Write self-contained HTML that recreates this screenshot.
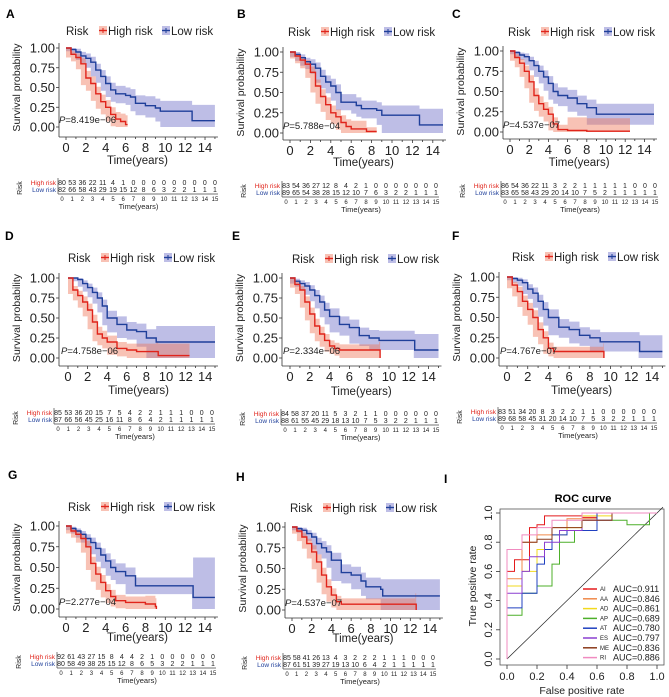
<!DOCTYPE html>
<html><head><meta charset="utf-8"><style>
html,body{margin:0;padding:0;background:#fff}
svg{display:block;font-family:"Liberation Sans",Arial,sans-serif}
</style></head><body>
<svg id="fig" width="669" height="697" viewBox="0 0 669 697" xmlns="http://www.w3.org/2000/svg"></svg>
<script>
// ---- Kaplan-Meier data (time years, survival, CI half-width) ----
const A_hiT=[0,0.5,1,1.5,2,2.5,3,3.5,4,4.5,5,5.5,6,6.2];
const A_hiS=[1,0.92,0.88,0.80,0.62,0.55,0.42,0.32,0.25,0.16,0.10,0.07,0.03,0.03];
const A_hiE=[0,0.04,0.05,0.07,0.09,0.09,0.09,0.09,0.09,0.09,0.09,0.1,0.12,0.12];
const A_loT=[0,0.5,1,1.5,2,2.5,3,3.5,4,4.5,5,6,6.5,7,8,9,9.5,12.7,15];
const A_loS=[1,0.98,0.95,0.90,0.87,0.82,0.72,0.64,0.55,0.47,0.42,0.40,0.38,0.30,0.27,0.24,0.20,0.08,0.08];
const A_loE=[0,0.02,0.04,0.05,0.06,0.07,0.08,0.08,0.09,0.09,0.1,0.1,0.1,0.1,0.12,0.12,0.13,0.2,0.2];
const A_hiN=[80,53,36,22,11,4,1,0,0,0,0,0,0,0,0,0];
const A_loN=[82,66,58,43,29,19,15,12,8,6,3,2,2,1,1,1];

const B_hiT=[0,0.5,1,1.5,2,2.5,3,3.5,4,4.5,5,5.5,6,7,7.5,8.5];
const B_hiS=[1,0.95,0.90,0.85,0.75,0.58,0.45,0.35,0.25,0.20,0.13,0.08,0.05,0.05,0.02,0.02];
const B_hiE=[0,0.03,0.04,0.05,0.07,0.08,0.09,0.09,0.09,0.09,0.09,0.09,0.1,0.1,0.05,0.05];
const B_loT=[0,0.5,1,1.5,2,2.5,3,3.5,4,4.5,5,6,6.5,7,8.5,9,12.7,15];
const B_loS=[1,0.97,0.93,0.88,0.85,0.80,0.70,0.63,0.58,0.50,0.38,0.38,0.34,0.30,0.28,0.22,0.10,0.10];
const B_loE=[0,0.03,0.04,0.05,0.06,0.07,0.08,0.08,0.09,0.1,0.1,0.1,0.1,0.1,0.1,0.12,0.2,0.2];
const B_hiN=[83,54,36,27,12,8,4,2,1,0,0,0,0,0,0,0];
const B_loN=[89,65,54,38,28,15,12,10,7,6,3,2,2,1,1,1];

const C_hiT=[0,0.5,1,1.5,2,2.5,3,3.5,4,4.5,5,6,8,12.5];
const C_hiS=[1,0.92,0.85,0.75,0.62,0.45,0.35,0.28,0.22,0.10,0.03,0.02,0.01,0.01];
const C_hiE=[0,0.04,0.05,0.07,0.08,0.09,0.09,0.09,0.09,0.08,0.06,0.16,0.16,0.16];
const C_loT=[0,0.5,1,1.5,2,2.5,3,3.5,4,4.5,5,6,7,8,9,15];
const C_loS=[1,0.98,0.95,0.93,0.88,0.82,0.75,0.68,0.60,0.50,0.45,0.42,0.35,0.30,0.22,0.22];
const C_loE=[0,0.02,0.03,0.04,0.05,0.06,0.07,0.08,0.09,0.1,0.1,0.1,0.1,0.1,0.13,0.13];
const C_hiN=[86,54,36,22,11,3,2,2,1,1,1,1,1,0,0,0];
const C_loN=[83,65,58,43,29,20,14,10,7,5,2,1,1,1,1,1];

const D_hiT=[0,0.5,1,1.5,2,2.5,3,3.5,4,5,6,7,9,9.2,12.4];
const D_hiS=[1,0.85,0.78,0.70,0.60,0.45,0.30,0.25,0.20,0.12,0.10,0.08,0.08,0.03,0.03];
const D_hiE=[0,0.05,0.06,0.07,0.08,0.09,0.09,0.09,0.08,0.08,0.08,0.1,0.12,0.15,0.15];
const D_loT=[0,0.5,1,1.5,2,2.5,3,3.5,4,5,6,7,8,9,15];
const D_loS=[1,1,0.98,0.93,0.88,0.82,0.75,0.65,0.50,0.42,0.35,0.33,0.25,0.20,0.20];
const D_loE=[0,0.01,0.02,0.04,0.05,0.06,0.07,0.08,0.09,0.1,0.1,0.1,0.11,0.2,0.2];
const D_hiN=[85,53,36,20,15,7,5,4,2,2,1,1,1,0,0,0];
const D_loN=[87,66,56,45,25,16,11,8,6,4,2,1,1,1,1,1];

const E_hiT=[0,0.5,1,1.5,2,2.5,3,3.5,4,4.5,5,9,9.1];
const E_hiS=[1,0.92,0.85,0.70,0.55,0.40,0.30,0.22,0.15,0.12,0.10,0.10,0];
const E_hiE=[0,0.04,0.05,0.07,0.08,0.09,0.09,0.08,0.07,0.07,0.07,0.1,0];
const E_loT=[0,0.5,1,1.5,2,2.5,3,3.5,4,5,6,7,8,9,12.5,12.6,15];
const E_loS=[1,0.96,0.93,0.90,0.85,0.78,0.70,0.60,0.52,0.42,0.38,0.28,0.25,0.22,0.22,0.10,0.10];
const E_loE=[0,0.03,0.04,0.05,0.06,0.07,0.08,0.09,0.1,0.1,0.1,0.1,0.1,0.12,0.12,0.2,0.2];
const E_hiN=[84,58,37,20,11,5,3,2,1,1,0,0,0,0,0,0];
const E_loN=[88,61,55,45,29,18,13,10,7,5,3,2,2,1,1,1];

const F_hiT=[0,0.5,1,1.5,2,2.5,3,3.5,4,4.5,9.3,9.35];
const F_hiS=[1,0.90,0.82,0.70,0.60,0.50,0.35,0.25,0.12,0.08,0.08,0];
const F_hiE=[0,0.04,0.06,0.07,0.08,0.09,0.09,0.08,0.07,0.06,0.1,0];
const F_loT=[0,0.5,1,1.5,2,2.5,3,3.5,4,5,6,7,8,9,12.7,12.8,15];
const F_loS=[1,0.98,0.96,0.93,0.85,0.80,0.70,0.60,0.50,0.38,0.35,0.28,0.25,0.20,0.20,0.08,0.08];
const F_loE=[0,0.02,0.03,0.04,0.06,0.07,0.08,0.09,0.1,0.1,0.1,0.1,0.1,0.12,0.12,0.2,0.2];
const F_hiN=[83,51,34,20,8,3,2,2,1,1,0,0,0,0,0,0];
const F_loN=[89,68,58,45,31,20,14,10,7,5,3,2,2,1,1,1];

const G_hiT=[0,0.5,1,1.5,2,2.5,3,3.5,4,4.5,5,6,8,9,9.1];
const G_hiS=[1,0.94,0.90,0.85,0.75,0.55,0.42,0.32,0.22,0.15,0.10,0.08,0.06,0.03,0];
const G_hiE=[0,0.03,0.04,0.05,0.07,0.08,0.09,0.09,0.08,0.08,0.07,0.07,0.1,0.1,0];
const G_loT=[0,0.5,1,1.5,2,2.5,3,3.5,4,4.5,5,6,7,12.7,12.8,15];
const G_loS=[1,0.97,0.94,0.90,0.85,0.80,0.73,0.65,0.58,0.50,0.45,0.40,0.28,0.28,0.14,0.14];
const G_loE=[0,0.02,0.03,0.04,0.05,0.06,0.07,0.08,0.09,0.1,0.1,0.1,0.1,0.1,0.48,0.48];
const G_hiN=[92,61,43,27,15,8,4,4,2,1,0,0,0,0,0,0];
const G_loN=[80,58,49,38,25,15,12,8,6,5,3,2,2,1,1,1];

const H_hiT=[0,0.5,1,1.5,2,2.5,3,3.5,4,4.5,5,12.5,12.6];
const H_hiS=[1,0.95,0.88,0.80,0.70,0.58,0.42,0.28,0.18,0.10,0.07,0.07,0];
const H_hiE=[0,0.03,0.05,0.06,0.08,0.09,0.09,0.09,0.08,0.07,0.07,0.13,0];
const H_loT=[0,0.5,1,1.5,2,2.5,3,3.5,4,5,6,7,7.5,9,9.2,15];
const H_loS=[1,0.98,0.96,0.92,0.88,0.80,0.75,0.70,0.60,0.45,0.42,0.35,0.28,0.25,0.17,0.17];
const H_loE=[0,0.02,0.03,0.04,0.05,0.07,0.08,0.08,0.09,0.1,0.1,0.1,0.11,0.12,0.2,0.22];
const H_hiN=[85,58,41,26,13,4,3,2,2,2,1,1,1,0,0,0];
const H_loN=[87,61,51,39,27,19,13,10,6,4,2,1,1,1,1,1];

const pValues=["8.419e\u221206","5.788e\u221204","4.537e\u221207","4.758e\u221206","2.334e\u221206","4.767e\u221207","2.277e\u221204","4.537e\u221207"];
const yTickVals=[0,0.25,0.5,0.75,1];
const yTickLabels=["0.00","0.25","0.50","0.75","1.00"];
const xTickVals=[0,2,4,6,8,10,12,14];

// ---- ROC data ----
const rocNames=["AI","AA","AD","AP","AT","ES","ME","RI"];
const rocAUC=["0.911","0.846","0.861","0.689","0.780","0.797","0.836","0.886"];
const rocColors=["#e41a1c","#f08a4b","#f2d91e","#4daf2a","#2040c0","#8a3fd0","#8b3a1a","#f08bc0"];
const roc_AI=[[0,0],[0,0.6],[0.05,0.6],[0.05,0.68],[0.15,0.68],[0.15,0.85],[0.2,0.9],[0.25,0.92],[0.3,0.98],[0.5,0.98],[0.6,0.97],[1,1]];
const roc_AA=[[0,0],[0,0.55],[0.1,0.55],[0.1,0.75],[0.2,0.8],[0.3,0.85],[0.4,0.9],[0.6,0.96],[1,1]];
const roc_AD=[[0,0],[0,0.45],[0.1,0.5],[0.2,0.6],[0.3,0.75],[0.4,0.85],[0.5,0.9],[0.7,0.98],[1,1]];
const roc_AP=[[0,0],[0,0.2],[0.1,0.3],[0.2,0.45],[0.3,0.5],[0.35,0.65],[0.45,0.8],[0.6,0.88],[0.8,0.95],[0.95,0.92],[1,1]];
const roc_AT=[[0,0],[0,0.3],[0.1,0.35],[0.2,0.45],[0.25,0.65],[0.3,0.75],[0.4,0.85],[0.6,0.88],[1,1]];
const roc_ES=[[0,0],[0,0.4],[0.1,0.45],[0.15,0.6],[0.25,0.7],[0.35,0.8],[0.5,0.88],[0.7,0.95],[1,1]];
const roc_ME=[[0,0],[0,0.75],[0.1,0.75],[0.2,0.8],[0.3,0.82],[0.5,0.9],[0.7,0.95],[1,1]];
const roc_RI=[[0,0],[0,0.7],[0.1,0.75],[0.2,0.85],[0.3,0.9],[0.5,0.95],[1,1]];
const rocSeries=[roc_AI,roc_AA,roc_AD,roc_AP,roc_AT,roc_ES,roc_ME,roc_RI];
const rocTicks=[0,0.2,0.4,0.6,0.8,1];
const rocTickLabels=["0.0","0.2","0.4","0.6","0.8","1.0"];

const NS="http://www.w3.org/2000/svg";
const svg=document.getElementById('fig');
function el(tag,attrs,parent,text){const e=document.createElementNS(NS,tag);for(const k in attrs)e.setAttribute(k,attrs[k]);if(text!==undefined)e.textContent=text;(parent||svg).appendChild(e);return e;}

const panels=[
 {id:"A",x0:66,k:9.93,y1:48,y0:127,ax:59,by:137,lx:66,ly:35,f:1,lab:[6,18],tY:164,tx0:62,tx15:215,ty:185,hiT:A_hiT,hiS:A_hiS,hiE:A_hiE,loT:A_loT,loS:A_loS,loE:A_loE,hiN:A_hiN,loN:A_loN},
 {id:"B",x0:290,k:10.2,y1:52,y0:133,ax:283,by:140,lx:288,ly:36,f:1,lab:[237,18],tY:166,tx0:286,tx15:436,ty:188,hiT:B_hiT,hiS:B_hiS,hiE:B_hiE,loT:B_loT,loS:B_loS,loE:B_loE,hiN:B_hiN,loN:B_loN},
 {id:"C",x0:510,k:9.6,y1:51,y0:132,ax:503,by:139,lx:508,ly:36,f:1,lab:[452,18],tY:166,tx0:505,tx15:655,ty:188,hiT:C_hiT,hiS:C_hiS,hiE:C_hiE,loT:C_loT,loS:C_loS,loE:C_loE,hiN:C_hiN,loN:C_loN},
 {id:"D",x0:68,k:9.8,y1:278,y0:358,ax:59,by:366,lx:68,ly:262,f:1,lab:[5,240],tY:394,tx0:58,tx15:212,ty:415,hiT:D_hiT,hiS:D_hiS,hiE:D_hiE,loT:D_loT,loS:D_loS,loE:D_loE,hiN:D_hiN,loN:D_loN},
 {id:"E",x0:290,k:9.9,y1:278,y0:358,ax:282,by:366,lx:292,ly:263,f:1,lab:[232,240],tY:395,tx0:285,tx15:436,ty:416,hiT:E_hiT,hiS:E_hiS,hiE:E_hiE,loT:E_loT,loS:E_loS,loE:E_loE,hiN:E_hiN,loN:E_loN},
 {id:"F",x0:507,k:10.36,y1:277,y0:358,ax:499,by:366,lx:512,ly:261,f:1,lab:[452,240],tY:394,tx0:502,tx15:654,ty:414,hiT:F_hiT,hiS:F_hiS,hiE:F_hiE,loT:F_loT,loS:F_loS,loE:F_loE,hiN:F_hiN,loN:F_loN},
 {id:"G",x0:66,k:9.93,y1:526,y0:609,ax:59,by:617,lx:68,ly:511,f:1,lab:[8,479],tY:641,tx0:61,tx15:213,ty:659,hiT:G_hiT,hiS:G_hiS,hiE:G_hiE,loT:G_loT,loS:G_loS,loE:G_loE,hiN:G_hiN,loN:G_loN},
 {id:"H",x0:292,k:9.86,y1:527,y0:610,ax:285,by:618,lx:290,ly:512,f:1,lab:[236,481],tY:642,tx0:287,tx15:433,ty:660,hiT:H_hiT,hiS:H_hiS,hiE:H_hiE,loT:H_loT,loS:H_loS,loE:H_loE,hiN:H_hiN,loN:H_loN}
];

function stepPath(xs,ys){let d="M"+xs[0].toFixed(1)+","+ys[0].toFixed(1);for(let i=1;i<xs.length;i++){d+="H"+xs[i].toFixed(1)+"V"+ys[i].toFixed(1);}return d;}

panels.forEach((p,pi)=>{
  const g=el('g',{});
  
  
  const X=t=>p.x0+t*p.k, Y=s=>p.y0-Math.max(0,Math.min(1,s))*(p.y0-p.y1);
  const lb=el('text',{x:p.lab[0],y:p.lab[1],'font-size':12,'font-weight':'bold'},g,p.id);
  
  
  [[p.loT,p.loS,p.loE,'rgba(110,110,200,0.45)','#1f3f9a','low'],[p.hiT,p.hiS,p.hiE,'rgba(240,120,90,0.45)','#e0241b','high']].forEach(c=>{
    const [T,S,E,fill,col,nm]=c;
    const xs=T.map(X), up=S.map((s,i)=>Y(s+E[i])), lo=S.map((s,i)=>Y(s-E[i]));
    let d=stepPath(xs,up);
    const rx=xs.slice().reverse(), rl=lo.slice().reverse();
    d+="L"+rx[0].toFixed(1)+","+rl[0].toFixed(1);
    for(let i=1;i<rx.length;i++){d+="V"+rl[i-1].toFixed(1)+"H"+rx[i].toFixed(1);}
    d+="V"+rl[rl.length-1].toFixed(1)+"Z";
    const band=el('path',{d:d,fill:fill,stroke:'none'},g);
    
    
  });
  [[p.loT,p.loS,'#1f3f9a','low'],[p.hiT,p.hiS,'#e0241b','high']].forEach(c=>{
    const ln=el('path',{d:stepPath(c[0].map(X),c[1].map(Y)),fill:'none',stroke:c[2],'stroke-width':1.4},g);
    
    
  });
  const yl=el('line',{x1:p.ax,y1:p.y1-5,x2:p.ax,y2:p.by,stroke:'#333','stroke-width':0.8},g);
  
  
  const xl=el('line',{x1:p.ax,y1:p.by,x2:X(15)+3,y2:p.by,stroke:'#333','stroke-width':0.8},g);
  
  
  const fs=13*p.f;
  yTickVals.forEach((v,i)=>{
    el('line',{x1:p.ax-3,y1:Y(v),x2:p.ax,y2:Y(v),stroke:'#333','stroke-width':0.8},g);
    const t=el('text',{x:p.ax-4,y:Y(v)+fs*0.36,'font-size':fs,'text-anchor':'end',fill:'#222'},g,yTickLabels[i]);
    
    
  });
  for(let t=0;t<=15;t++){el('line',{x1:X(t),y1:p.by,x2:X(t),y2:p.by+(t%2?2:3),stroke:'#333','stroke-width':0.8},g);}
  xTickVals.forEach(v=>{
    const t=el('text',{x:X(v),y:p.by+fs+2,'font-size':fs,'text-anchor':'middle',fill:'#222'},g,String(v));
    
    
  });
  const xt=el('text',{x:X(7.2),y:p.tY,'font-size':11.5,'text-anchor':'middle',fill:'#222'},g,'Time(years)');
  
  
  const yx=p.ax-39, yy=(p.y1+p.y0)/2;
  const yt=el('text',{x:yx,y:yy,'font-size':10.5,'text-anchor':'middle',fill:'#222',transform:'rotate(-90 '+yx+' '+yy+')'},g,'Survival probability');
  
  
  const pt=el('text',{x:p.x0-7,y:Y(0.05),'font-size':9.5,fill:'#222'},g);
  
  
  el('tspan',{'font-style':'italic'},pt,'P');
  el('tspan',{},pt,'='+pValues[pi]);
  const f=p.f, lf=11.5;
  const leg=el('g',{},g);
  
  
  el('text',{x:p.lx,y:p.ly,'font-size':lf,fill:'#222'},leg,'Risk');
  [[34,42,'rgba(240,120,90,0.45)','#e0241b','High risk'],[97,105,'rgba(110,110,200,0.45)','#1f3f9a','Low risk']].forEach(e=>{
    const sx=p.lx+e[0]*f, tx=p.lx+e[1]*f;
    const ent=el('g',{},leg);
    
    
    el('rect',{x:sx-1,y:p.ly-9,width:8,height:9,fill:e[2]},ent);
    el('line',{x1:sx-1,y1:p.ly-4.5,x2:sx+7,y2:p.ly-4.5,stroke:e[3],'stroke-width':1.4},ent);
    el('line',{x1:sx+3,y1:p.ly-7,x2:sx+3,y2:p.ly-2,stroke:e[3],'stroke-width':1},ent);
    el('text',{x:tx,y:p.ly,'font-size':lf,fill:'#222'},ent,e[4]);
  });
  const tb=el('g',{},g);
  
  
  const TX=i=>p.tx0+i*(p.tx15-p.tx0)/15;
  el('line',{x1:p.tx0-4,y1:p.ty-7,x2:p.tx0-4,y2:p.ty+9,stroke:'#444','stroke-width':0.7},tb);
  el('line',{x1:p.tx0-4,y1:p.ty+9,x2:p.tx15+3,y2:p.ty+9,stroke:'#444','stroke-width':0.7},tb);
  el('text',{x:p.tx0-6,y:p.ty,'font-size':6.5,'text-anchor':'end',fill:'#e0241b'},tb,'High risk');
  el('text',{x:p.tx0-6,y:p.ty+7,'font-size':6.5,'text-anchor':'end',fill:'#1f3f9a'},tb,'Low risk');
  const rx=p.tx0-40, ry=p.ty+3;
  el('text',{x:rx,y:ry,'font-size':7,'text-anchor':'middle',fill:'#222',transform:'rotate(-90 '+rx+' '+ry+')'},tb,'Risk');
  p.hiN.forEach((n,i)=>el('text',{x:TX(i),y:p.ty,'font-size':7,'text-anchor':'middle',fill:'#222'},tb,String(n)));
  p.loN.forEach((n,i)=>el('text',{x:TX(i),y:p.ty+7,'font-size':7,'text-anchor':'middle',fill:'#222'},tb,String(n)));
  for(let i=0;i<=15;i++){el('text',{x:TX(i),y:p.ty+16,'font-size':6,'text-anchor':'middle',fill:'#222'},tb,String(i));}
  el('text',{x:TX(7.5),y:p.ty+24,'font-size':7.5,'text-anchor':'middle',fill:'#222'},tb,'Time(years)');
});

(function(){
  const g=el('g',{});
  
  
  const X=v=>507+v*150, Y=v=>659-v*146;
  const lb=el('text',{x:444,y:483,'font-size':12,'font-weight':'bold'},g,'I');
  
  
  const tt=el('text',{x:583,y:502,'font-size':11,'font-weight':'bold','text-anchor':'middle'},g,'ROC curve');
  
  
  el('rect',{x:500,y:509,width:164,height:156,fill:'none',stroke:'#555','stroke-width':0.8},g);
  el('line',{x1:X(0),y1:Y(0),x2:X(1.04),y2:Y(1.04),stroke:'#222','stroke-width':0.7},g);
  rocSeries.forEach((pts,si)=>{
    let d="M"+X(pts[0][0]).toFixed(1)+","+Y(pts[0][1]).toFixed(1);
    for(let i=1;i<pts.length;i++){d+="V"+Y(pts[i][1]).toFixed(1)+"H"+X(pts[i][0]).toFixed(1);}
    const ln=el('path',{d:d,fill:'none',stroke:rocColors[si],'stroke-width':1},g);
    
    
  });
  rocTicks.forEach((v,i)=>{
    el('line',{x1:X(v),y1:665,x2:X(v),y2:669,stroke:'#333','stroke-width':0.8},g);
    const t=el('text',{x:X(v),y:680,'font-size':11,'text-anchor':'middle',fill:'#222'},g,rocTickLabels[i]);
    
    
    el('line',{x1:496,y1:Y(v),x2:500,y2:Y(v),stroke:'#333','stroke-width':0.8},g);
    const yx=492,yy=Y(v);
    const u=el('text',{x:yx,y:yy,'font-size':11,'text-anchor':'middle',fill:'#222',transform:'rotate(-90 '+yx+' '+yy+')'},g,rocTickLabels[i]);
    
    
  });
  const xt=el('text',{x:582,y:694,'font-size':10.5,'text-anchor':'middle',fill:'#222'},g,'False positive rate');
  
  
  const yt=el('text',{x:476,y:586,'font-size':10.5,'text-anchor':'middle',fill:'#222',transform:'rotate(-90 476 586)'},g,'True positive rate');
  
  
  rocNames.forEach((n,i)=>{
    const y=592+i*9.8;
    const e=el('g',{},g);
    
    
    el('line',{x1:583,y1:y-3,x2:597,y2:y-3,stroke:rocColors[i],'stroke-width':1.5},e);
    el('text',{x:600,y:y-1,'font-size':6,fill:'#222'},e,n);
    el('text',{x:613,y:y,'font-size':9,fill:'#222'},e,'AUC='+rocAUC[i]);
  });
})();
</script>
</body></html>
